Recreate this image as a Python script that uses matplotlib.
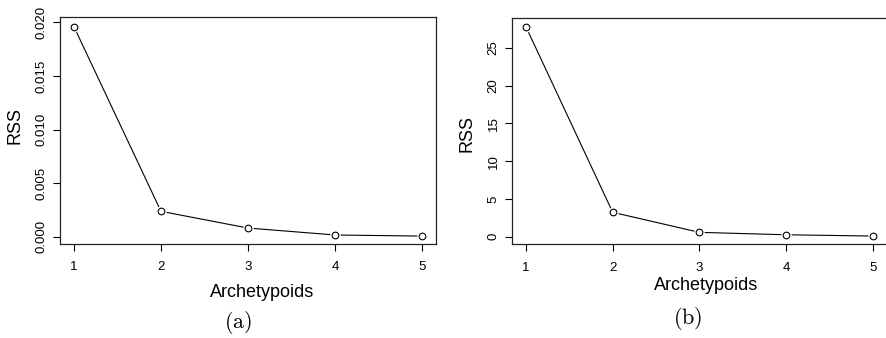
import matplotlib
matplotlib.use("Agg")
import matplotlib.pyplot as plt

plt.rcParams['font.family'] = ['Liberation Sans', 'DejaVu Sans']
plt.rcParams['mathtext.fontset'] = 'cm'

# data
k = [1, 2, 3, 4, 5]
rss_a = [0.0196, 0.00237, 0.00081, 0.00016, 0.00006]
rss_b = [27.78, 3.23, 0.58, 0.26, 0.09]
yticks_a = [0.000, 0.005, 0.010, 0.015, 0.020]
ytick_labels_a = ['0.000', '0.005', '0.010', '0.015', '0.020']
yticks_b = [0, 5, 10, 15, 20, 25]

fig = plt.figure(figsize=(8.86, 3.38), dpi=100)
W, H = 886, 338


def make_axes(x0, x1, y0, y1):
    # pixel box (top origin) -> figure coords
    return fig.add_axes([x0 / W, 1 - y1 / H, (x1 - x0) / W, (y1 - y0) / H])


def draw_panel(ax, y, ylim, yticks, yticklabels):
    ax.plot(k, y, color='black', lw=0.8, zorder=1)
    # white discs give the R type="b" gaps around points
    ax.plot(k, y, 'o', ms=7.5, mfc='white', mec='none', zorder=2)
    ax.plot(k, y, 'o', ms=4.8, mfc='white', mec='black', mew=0.8, zorder=3)
    ax.set_xlim(0.84, 5.16)
    ax.set_ylim(*ylim)
    ax.set_xticks(k)
    ax.set_yticks(yticks)
    ax.set_yticklabels(yticklabels, rotation=90, va='center')
    ax.tick_params(axis='both', direction='out', length=5, width=0.8,
                   labelsize=9.5, colors='black')
    ax.tick_params(axis='x', pad=7.5)
    ax.tick_params(axis='y', pad=4)
    for s in ax.spines.values():
        s.set_linewidth(0.9)
        s.set_color('#222222')


ax1 = make_axes(60, 436, 17, 244)
draw_panel(ax1, rss_a, (-0.00068, 0.0205), yticks_a, ytick_labels_a)
ax1.set_xlabel('Archetypoids', fontsize=13, va='top')
ax1.xaxis.set_label_coords(0.537, -0.175)
ax1.set_ylabel('RSS', fontsize=13)
ax1.yaxis.set_label_coords(-0.098, 0.524)

ax2 = make_axes(512, 887, 18.3, 244.3)
draw_panel(ax2, rss_b, (-1.0, 28.89), yticks_b, [str(v) for v in yticks_b])
ax2.spines['right'].set_visible(False)
ax2.set_xlabel('Archetypoids', fontsize=13, va='top')
ax2.xaxis.set_label_coords(0.517, -0.145)
ax2.set_ylabel('RSS', fontsize=13)
ax2.yaxis.set_label_coords(-0.096, 0.49)

fig.text(238 / W, 1 - 322 / H, r'$\mathrm{(a)}$', fontsize=16, ha='center', va='center')
fig.text(688 / W, 1 - 318 / H, r'$\mathrm{(b)}$', fontsize=16, ha='center', va='center')

fig.savefig('out.png', dpi=100)
